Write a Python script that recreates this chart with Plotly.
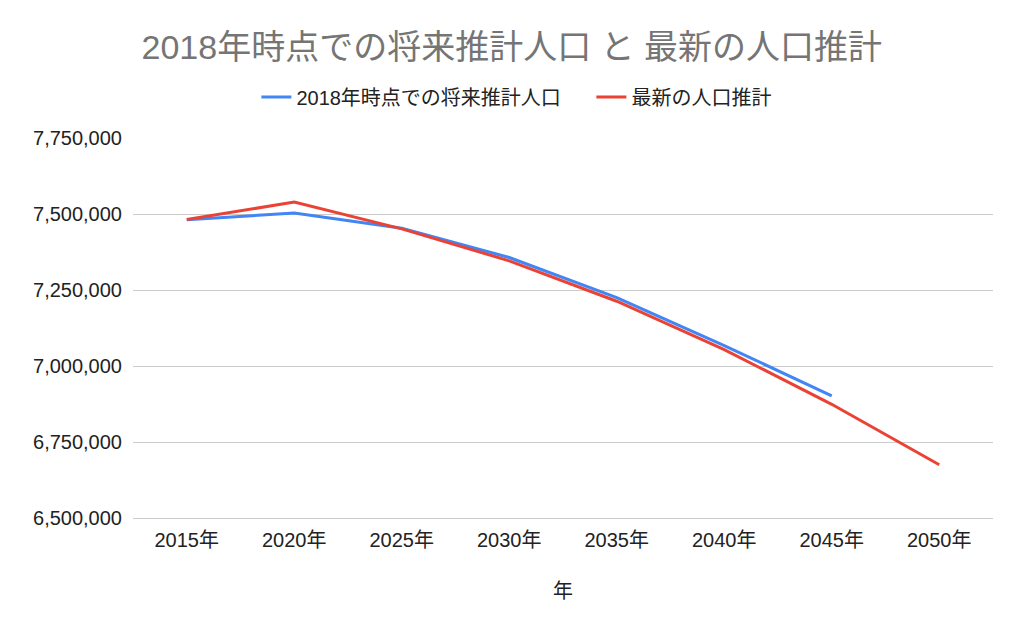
import plotly.graph_objects as go

years = ["2015年", "2020年", "2025年", "2030年", "2035年", "2040年", "2045年", "2050年"]
proj_2018 = [7481000, 7503000, 7453000, 7357000, 7225000, 7067000, 6902000, None]
latest = [7482000, 7539000, 7451000, 7346000, 7213000, 7054000, 6874000, 6675000]
y_ticks = [6500000, 6750000, 7000000, 7250000, 7500000, 7750000]

font_family = "'Liberation Sans', Arial, 'Noto Sans CJK JP', sans-serif"

fig = go.Figure()
fig.add_trace(go.Scatter(x=years, y=proj_2018, mode="lines", name="2018年時点での将来推計人口",
                         line=dict(color="#4285F4", width=3)))
fig.add_trace(go.Scatter(x=years, y=latest, mode="lines", name="最新の人口推計",
                         line=dict(color="#EA4335", width=3)))

fig.update_layout(
    width=1024, height=633,
    paper_bgcolor="white", plot_bgcolor="white",
    margin=dict(l=125, r=39, t=130, b=123),
    font=dict(family=font_family, color="#222222", size=20),
    title=dict(text="2018年時点での将来推計人口 と 最新の人口推計", x=0.492, xanchor="center",
               y=0.938, yanchor="middle", font=dict(size=34, color="#757575")),
    legend=dict(orientation="h", x=0.533, xanchor="center", y=1.108, yanchor="middle",
                font=dict(size=20, color="#222222"), itemwidth=30,
                entrywidth=290, entrywidthmode="pixels"),
    showlegend=True,
)
fig.update_xaxes(type="category", range=[-0.5, 7.5],
                 title=dict(text="年", font=dict(size=20, color="#222222"), standoff=33),
                 showgrid=False, showline=True, linecolor="#cccccc", linewidth=1,
                 ticks="", ticklabelstandoff=4, tickfont=dict(size=20))
fig.update_yaxes(range=[6500000, 7750000], tickvals=y_ticks, tickformat=",d",
                 gridcolor="#cccccc", gridwidth=1, zeroline=False, showline=False,
                 ticks="", ticklabelstandoff=10, tickfont=dict(size=20))

fig.write_html("out.html")
